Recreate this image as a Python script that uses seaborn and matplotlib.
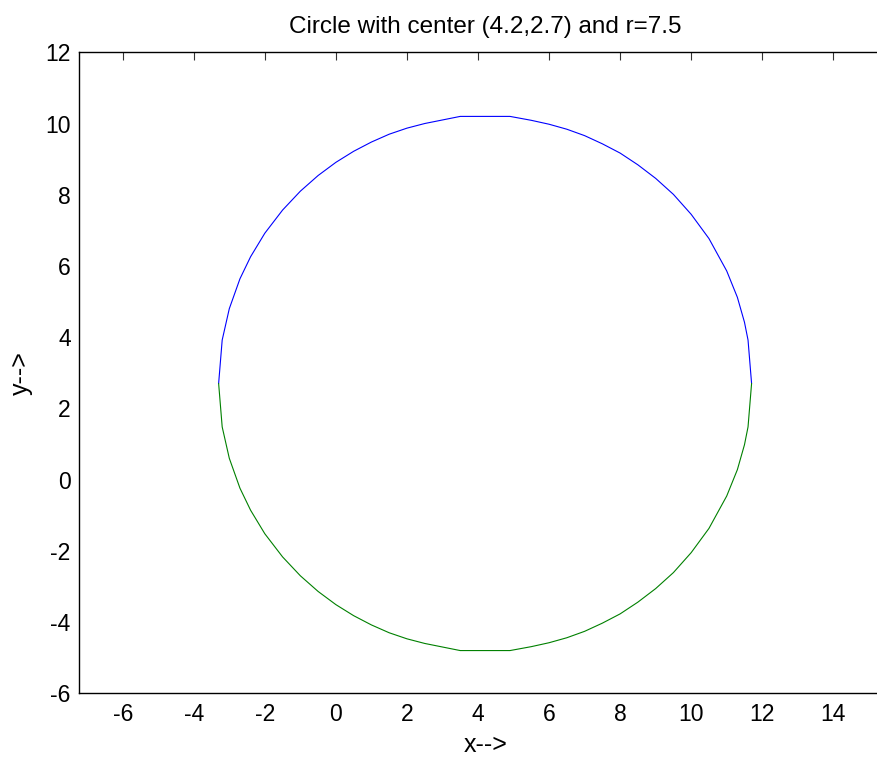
import matplotlib
matplotlib.use("Agg")
import matplotlib.pyplot as plt
import seaborn as sns

# Circle points (upper half blue, lower half green)
x_pts = [-3.3, -3.2, -3.0, -2.7, -2.4, -2.0, -1.5, -1.0, -0.5, 0.0, 0.5, 1.0,
         1.5, 2.0, 2.5, 3.0, 3.5, 4.0, 4.5, 4.9, 5.5, 6.0, 6.5, 7.0, 7.5, 8.0,
         8.5, 9.0, 9.5, 10.0, 10.5, 11.0, 11.3, 11.5, 11.6, 11.7]
y_upper = [2.70, 3.92, 4.80, 5.64, 6.26, 6.92, 7.57, 8.10, 8.54, 8.91, 9.22, 9.48,
           9.70, 9.87, 10.00, 10.10, 10.20, 10.20, 10.20, 10.20, 10.09, 9.98, 9.84, 9.66, 9.43, 9.17,
           8.84, 8.46, 8.01, 7.45, 6.77, 5.86, 5.12, 4.42, 3.92, 2.70]
y_lower = [2.70, 1.48, 0.60, -0.24, -0.86, -1.52, -2.17, -2.70, -3.14, -3.51, -3.82, -4.08,
           -4.30, -4.47, -4.60, -4.70, -4.80, -4.80, -4.80, -4.80, -4.69, -4.58, -4.44, -4.26, -4.03, -3.77,
           -3.44, -3.06, -2.61, -2.05, -1.37, -0.46, 0.28, 0.98, 1.48, 2.70]

title = "Circle with center (4.2,2.7) and r=7.5"
x_ticks = [-6, -4, -2, 0, 2, 4, 6, 8, 10, 12, 14]
y_ticks = [-6, -4, -2, 0, 2, 4, 6, 8, 10, 12]

sns.set_theme(style="white")
plt.rcParams['font.family'] = ['Liberation Sans', 'DejaVu Sans']
plt.rcParams['axes.unicode_minus'] = False
plt.rcParams['text.color'] = 'black'
plt.rcParams['axes.labelcolor'] = 'black'

W, H = 877, 759
fig = plt.figure(figsize=(W / 100, H / 100), dpi=100)
left, right, top, bottom = 79, 892, 52.3, 693.3
ax = fig.add_axes([left / W, 1 - bottom / H, (right - left) / W, (bottom - top) / H])

sns.lineplot(x=x_pts, y=y_upper, sort=False, color="#0000ff", linewidth=0.8, ax=ax)
sns.lineplot(x=x_pts, y=y_lower, sort=False, color="#008000", linewidth=0.8, ax=ax)

ax.set_xlim(-7.23, -7.23 + (right - left) / 35.53)
ax.set_ylim(-6, 12)
ax.set_xticks(x_ticks)
ax.set_yticks(y_ticks)
ax.tick_params(direction="in", length=6, width=0.8, color="#333333",
               top=True, right=True, labelsize=16.5, labelcolor="black", pad=6)
ax.tick_params(axis="x", pad=7)
for s in ax.spines.values():
    s.set_color("black")
    s.set_linewidth(1.0)
ax.set_title(title, fontsize=17.5, pad=14, color="black")
ax.set_xlabel("x-->", fontsize=18, labelpad=5)
ax.set_ylabel("y-->", fontsize=18, labelpad=9)
ax.grid(False)

fig.savefig("out.png", dpi=100, facecolor="white")
